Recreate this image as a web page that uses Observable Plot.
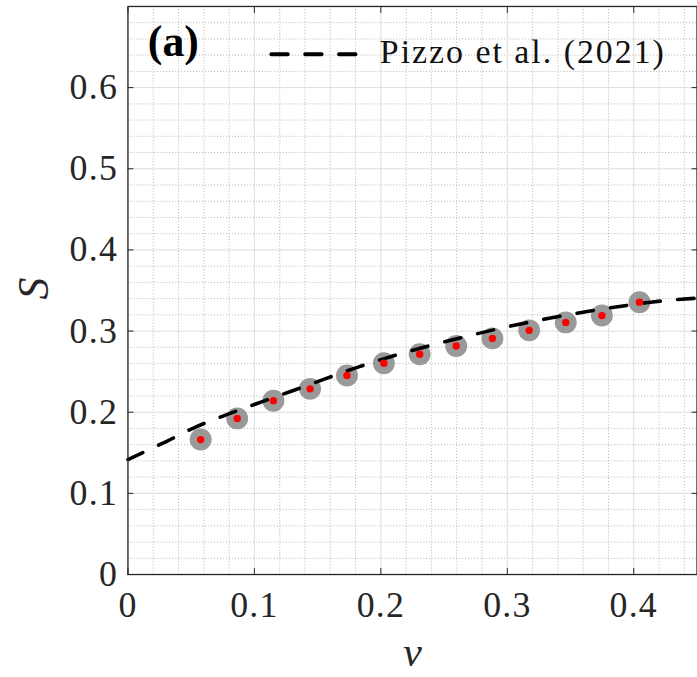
<!DOCTYPE html>
<html>
<head>
<meta charset="utf-8">
<script src="https://cdn.jsdelivr.net/npm/d3@7"></script>
<script src="https://cdn.jsdelivr.net/npm/@observablehq/plot@0.6"></script>
<style>
  html, body { margin: 0; padding: 0; overflow: hidden; background: #fff; }
  g[aria-label$="tick label"] text { letter-spacing: 1.2px; }
</style>
</head>
<body>
<div id="chart"></div>
<script>
// ---- data ----
const nuValues = [0.0575, 0.0864, 0.1150, 0.1440, 0.1732, 0.2024, 0.2307, 0.2596, 0.2882, 0.3173, 0.3462, 0.3748, 0.4045];
const sValues  = [0.1663, 0.1924, 0.2141, 0.2288, 0.2452, 0.2604, 0.2714, 0.2816, 0.2910, 0.3009, 0.3107, 0.3191, 0.3356];

const pizzoNu = [0, 0.0307, 0.0518, 0.0807, 0.1063, 0.1319, 0.1580, 0.1831, 0.2083, 0.2362, 0.2625, 0.2892, 0.3159, 0.3439, 0.3694, 0.3963, 0.4239, 0.4500];
const pizzoS  = [0.1417, 0.1642, 0.1805, 0.1985, 0.2131, 0.2274, 0.2423, 0.2562, 0.2687, 0.2810, 0.2915, 0.3015, 0.3105, 0.3188, 0.3258, 0.3320, 0.3374, 0.3405];

const xTicks = [0, 0.1, 0.2, 0.3, 0.4];
const yTicks = [0, 0.1, 0.2, 0.3, 0.4, 0.5, 0.6];
const xMinor = [0.02, 0.04, 0.06, 0.08, 0.12, 0.14, 0.16, 0.18, 0.22, 0.24, 0.26, 0.28, 0.32, 0.34, 0.36, 0.38, 0.42, 0.44];
const yMinor = [0.02, 0.04, 0.06, 0.08, 0.12, 0.14, 0.16, 0.18, 0.22, 0.24, 0.26, 0.28, 0.32, 0.34, 0.36, 0.38, 0.42, 0.44, 0.46, 0.48, 0.52, 0.54, 0.56, 0.58, 0.62, 0.64, 0.66, 0.68];

const xLabel = "ν";
const yLabel = "S";
const legendLabel = "Pizzo et al. (2021)";
const panelLabel = "(a)";

// ---- tables built from the arrays ----
const points = nuValues.map((x, i) => ({nu: x, S: sValues[i]}));
const curve = pizzoNu.map((x, i) => ({nu: x, S: pizzoS[i]}));
const fmt = d => d === 0 ? "0" : d.toFixed(1);
const serif = "'Liberation Serif', 'Times New Roman', serif";
const noText = () => "";

const chart = Plot.plot({
  width: 700,
  height: 677,
  marginLeft: 128,
  marginRight: 0.5,
  marginTop: 6,
  marginBottom: 100.5,
  x: {domain: [0, 0.45]},
  y: {domain: [0, 0.7]},
  style: {fontFamily: serif, background: "#fff", color: "#262626"},
  marks: [
    Plot.ruleX(xMinor, {stroke: "#b4b4b4", strokeWidth: 1, strokeDasharray: "1,2"}),
    Plot.ruleY(yMinor, {stroke: "#b4b4b4", strokeWidth: 1, strokeDasharray: "1,2"}),
    Plot.ruleX(xTicks, {stroke: "#dcdcdc", strokeWidth: 1}),
    Plot.ruleY(yTicks, {stroke: "#dcdcdc", strokeWidth: 1}),
    Plot.dot(points, {x: "nu", y: "S", r: 11, fill: "#999999", stroke: null}),
    Plot.line(curve, {x: "nu", y: "S", stroke: "black", strokeWidth: 3.6, strokeDasharray: "16.5,17.5", curve: "monotone-x"}),
    Plot.dot(points, {x: "nu", y: "S", r: 3.7, fill: "#ff0000", stroke: null}),
    Plot.frame({stroke: "#262626", strokeWidth: 1.3}),
    // tick labels
    Plot.axisX(xTicks, {anchor: "bottom", tickSize: 0, tickPadding: 17, fontSize: 36, tickFormat: fmt, label: null}),
    Plot.axisY(yTicks, {anchor: "left", tickSize: 0, tickPadding: 10, fontSize: 36, tickFormat: fmt, label: null}),
    // inward ticks on all four sides
    Plot.axisX(xTicks, {anchor: "bottom", tickSize: -6, tickFormat: noText, label: null, stroke: "#262626"}),
    Plot.axisX(xTicks, {anchor: "top", tickSize: -6, tickFormat: noText, label: null, stroke: "#262626"}),
    Plot.axisY(yTicks, {anchor: "left", tickSize: -6, tickFormat: noText, label: null, stroke: "#262626"}),
    Plot.axisY(yTicks, {anchor: "right", tickSize: -6, tickFormat: noText, label: null, stroke: "#262626"}),
    // axis titles
    Plot.text([xLabel], {frameAnchor: "bottom", dy: 91.5, lineAnchor: "bottom", fontSize: 42, fontStyle: "italic", fill: "#262626"}),
    Plot.text([yLabel], {frameAnchor: "left", dx: -80, dy: 9, rotate: -90, lineAnchor: "bottom", fontSize: 44, fontStyle: "italic", fill: "#262626"}),
    // panel label
    Plot.text([panelLabel], {frameAnchor: "top-left", dx: 20, dy: 49.5, textAnchor: "start", lineAnchor: "bottom", fontSize: 44, fontWeight: "bold", fill: "black"}),
    // legend
    Plot.vector([legendLabel], {
      frameAnchor: "top-left", dx: 144, dy: 48, rotate: 90, length: 86, anchor: "start",
      stroke: "black", strokeWidth: 4, strokeDasharray: "16.5,17.5",
      shape: {draw(ctx, l) { ctx.moveTo(0, 0); ctx.lineTo(0, -l); }}
    }),
    Plot.text([legendLabel], {frameAnchor: "top-left", dx: 253, dy: 57, textAnchor: "start", lineAnchor: "bottom", fontSize: 34, fill: "#111"})
  ]
});

d3.select(chart).selectAll("text").each(function() {
  if (this.textContent === legendLabel) this.style.letterSpacing = "2px";
});

document.getElementById("chart").appendChild(chart);
</script>
</body>
</html>
